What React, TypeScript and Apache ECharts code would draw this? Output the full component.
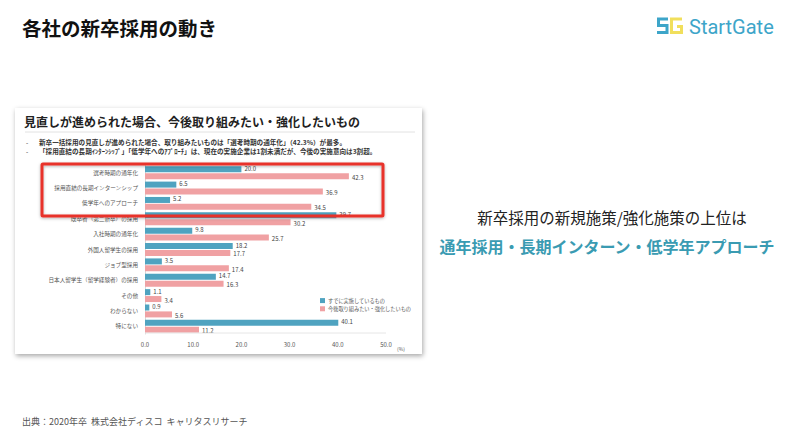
import React, { useEffect, useRef } from "react";
import * as echarts from "echarts";

const categories = [
  "選考時期の通年化",
  "採用直結の長期インターンシップ",
  "低学年へのアプローチ",
  "既卒者（第二新卒）の採用",
  "入社時期の通年化",
  "外国人留学生の採用",
  "ジョブ型採用",
  "日本人留学生（留学経験者）の採用",
  "その他",
  "わからない",
  "特にない",
];
const alreadyDoing = [20.0, 6.5, 5.2, 39.7, 9.8, 18.2, 3.5, 14.7, 1.1, 0.9, 40.1];
const wantToDo = [42.3, 36.9, 34.5, 30.2, 25.7, 17.7, 17.4, 16.3, 3.4, 5.6, 11.2];
const seriesNames = ["すでに実施しているもの", "今後取り組みたい・強化したいもの"];
const xTicks = [0, 10, 20, 30, 40, 50];

const FONT = "'Noto Sans CJK JP', 'Noto Sans', sans-serif";

export default function App() {
  const ref = useRef<HTMLDivElement>(null);
  useEffect(() => {
    if (!ref.current) return;
    const chart = echarts.init(ref.current, null, { renderer: "svg" });
    const labelStyle = (dy: number) => ({
      show: true,
      position: "right",
      distance: 3,
      offset: [0, dy],
      fontSize: 6,
      lineHeight: 6,
      color: "#444",
      fontFamily: FONT,
      formatter: (p: any) => Number(p.value).toFixed(1),
    });
    chart.setOption({
      animation: false,
      backgroundColor: "#ffffff",
      textStyle: { fontFamily: FONT },
      grid: { left: 145, right: 800 - 386, top: 165, bottom: 446 - 334, containLabel: false },
      legend: {
        orient: "vertical",
        left: 315,
        top: 293,
        itemWidth: 5,
        itemHeight: 5,
        itemGap: 3,
        icon: "rect",
        textStyle: { fontSize: 5.2, color: "#555", fontFamily: FONT, padding: [0, 0, 0, -2] },
        data: seriesNames,
      },
      xAxis: {
        type: "value",
        min: xTicks[0],
        max: xTicks[xTicks.length - 1],
        interval: 10,
        axisLine: { show: false },
        axisTick: { show: false },
        splitLine: { show: false },
        axisLabel: {
          fontSize: 6,
          color: "#555",
          margin: 7,
          formatter: (v: number) => v.toFixed(1),
        },
      },
      yAxis: {
        type: "category",
        inverse: true,
        data: categories,
        axisLine: { show: true, lineStyle: { color: "#d8d8d8", width: 1 } },
        axisTick: { show: false },
        axisLabel: { fontSize: 5.6, color: "#555", margin: 7 },
      },
      series: [
        {
          name: seriesNames[0],
          type: "bar",
          data: alreadyDoing,
          barWidth: 6,
          barGap: "15%",
          itemStyle: { color: "#4fa3c0" },
          label: labelStyle(-1),
        },
        {
          name: seriesNames[1],
          type: "bar",
          data: wantToDo,
          barWidth: 6,
          barGap: "15%",
          itemStyle: { color: "#f0a1a3" },
          label: labelStyle(1),
        },
      ],
      graphic: [
        {
          type: "rect",
          z: -10,
          shape: { x: 15, y: 108, width: 407, height: 246 },
          style: { fill: "#ffffff", shadowBlur: 5, shadowColor: "rgba(0,0,0,0.35)", shadowOffsetX: 1, shadowOffsetY: 2 },
        },
        {
          type: "line",
          z: -5,
          shape: { x1: 25, y1: 132, x2: 415, y2: 132 },
          style: { stroke: "#e2e2e2", lineWidth: 1 },
        },
        {
          type: "line",
          z: 5,
          shape: { x1: 145, y1: 333, x2: 386, y2: 333 },
          style: { stroke: "#e6e6e6", lineWidth: 1 },
        },
        {
          type: "text",
          x: 22,
          y: 27,
          style: { text: "各社の新卒採用の動き", fontSize: 19.5, fontWeight: "bold", fill: "#111", fontFamily: FONT, verticalAlign: "middle" },
        },
        {
          type: "polyline",
          shape: { points: [[668, 19], [658.5, 19], [658.5, 25.5], [667, 25.5], [667, 32.5], [657, 32.5]] },
          style: { stroke: "#3da5c9", lineWidth: 3, fill: null },
        },
        {
          type: "polyline",
          shape: { points: [[682, 19], [671.5, 19], [671.5, 32.5], [681.5, 32.5], [681.5, 26.5], [677, 26.5]] },
          style: { stroke: "#f1df5c", lineWidth: 3, fill: null },
        },
        {
          type: "text",
          x: 689,
          y: 27,
          style: { text: "StartGate", fontSize: 20, fill: "#3da5c9", fontFamily: "Roboto, 'Noto Sans', sans-serif", verticalAlign: "middle" },
        },
        {
          type: "text",
          x: 24,
          y: 121,
          style: { text: "見直しが進められた場合、今後取り組みたい・強化したいもの", fontSize: 12, fontWeight: "bold", fill: "#222", fontFamily: FONT, verticalAlign: "middle" },
        },
        {
          type: "text",
          x: 26,
          y: 142,
          style: { text: "-", fontSize: 6.5, fill: "#333", fontFamily: FONT, verticalAlign: "middle" },
        },
        {
          type: "text",
          x: 39,
          y: 142,
          style: { text: "新卒一括採用の見直しが進められた場合、取り組みたいものは「選考時期の通年化」（42.3%）が最多。", fontSize: 6.6, fontWeight: "bold", fill: "#333", fontFamily: FONT, verticalAlign: "middle" },
        },
        {
          type: "text",
          x: 26,
          y: 151,
          style: { text: "-", fontSize: 6.5, fill: "#333", fontFamily: FONT, verticalAlign: "middle" },
        },
        {
          type: "text",
          x: 39,
          y: 151,
          style: { text: "「採用直結の長期ｲﾝﾀｰﾝｼｯﾌﾟ」「低学年へのｱﾌﾟﾛｰﾁ」は、現在の実施企業は1割未満だが、今後の実施意向は3割超。", fontSize: 6.6, fontWeight: "bold", fill: "#333", fontFamily: FONT, verticalAlign: "middle" },
        },
        {
          type: "text",
          x: 397,
          y: 348,
          style: { text: "(%)", fontSize: 5, fill: "#555", fontFamily: FONT, verticalAlign: "middle" },
        },
        {
          type: "rect",
          z: 100,
          shape: { x: 42, y: 164, width: 341, height: 52, r: 1 },
          style: { fill: null, stroke: "#e8312a", lineWidth: 3, shadowBlur: 3, shadowColor: "rgba(0,0,0,0.3)", shadowOffsetY: 1 },
        },
        {
          type: "text",
          x: 612,
          y: 217,
          style: { text: "新卒採用の新規施策/強化施策の上位は", fontSize: 15.5, fill: "#222", fontFamily: FONT, align: "center", verticalAlign: "middle" },
        },
        {
          type: "text",
          x: 607,
          y: 246,
          style: { text: "通年採用・長期インターン・低学年アプローチ", fontSize: 16, fontWeight: "bold", fill: "#3a9bb2", fontFamily: FONT, align: "center", verticalAlign: "middle" },
        },
        {
          type: "text",
          x: 22,
          y: 421,
          style: { text: "出典：2020年卒  株式会社ディスコ  キャリタスリサーチ", fontSize: 9, fill: "#555", fontFamily: FONT, verticalAlign: "middle" },
        },
      ],
    });
    return () => chart.dispose();
  }, []);
  return <div ref={ref} style={{ width: 800, height: 446, position: "fixed", left: 0, top: 0 }} />;
}
